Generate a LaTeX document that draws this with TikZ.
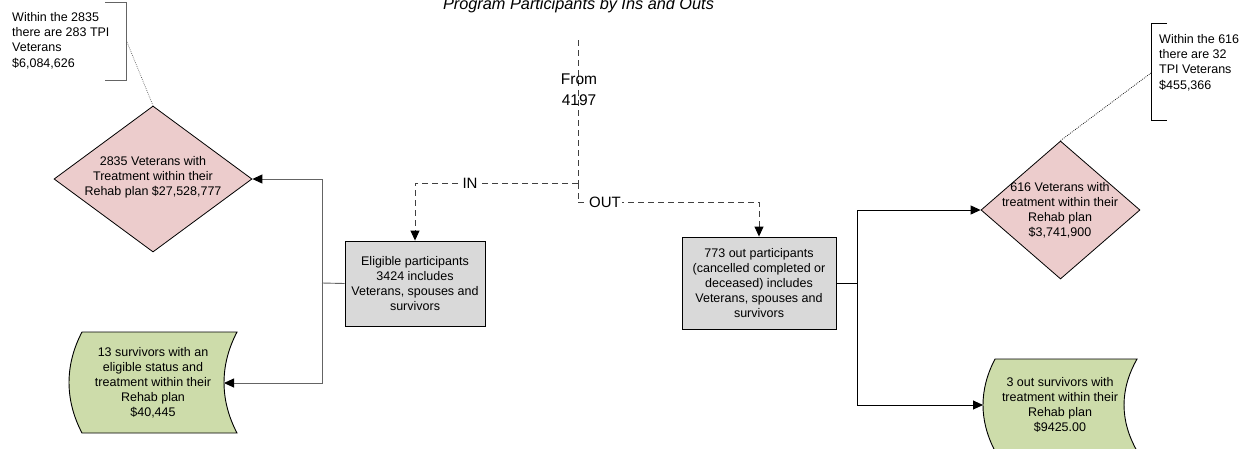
\documentclass[tikz,border=0pt]{standalone}
\usepackage{fontspec}
\setmainfont{Liberation Sans}
\usetikzlibrary{arrows.meta,shapes.geometric}
\definecolor{pinkfill}{RGB}{236,204,204}
\definecolor{greenfill}{RGB}{205,220,170}
\definecolor{boxfill}{RGB}{217,217,217}
\definecolor{lgray}{RGB}{100,100,100}
\tikzset{
  txt/.style={font=\fontsize{12.5}{15}\selectfont, align=center, inner sep=0pt},
  calltxt/.style={font=\fontsize{12.5}{15.3}\selectfont, align=left, inner sep=0pt, anchor=west},
  procbox/.style={draw, fill=boxfill, line width=0.9pt, txt},
  diam/.style={diamond, draw, fill=pinkfill, inner sep=0pt, line width=0.8pt},
  tape/.style={draw, fill=greenfill, line width=0.9pt},
  tip/.style={-{Triangle[length=10pt,width=9pt,color=black]}},
  conn/.style={line width=0.9pt, tip},
  dconn/.style={dash pattern=on 6pt off 4pt, line width=0.9pt, color=black!75},
  lbl/.style={font=\fontsize{15}{18}\selectfont, fill=white, inner sep=1.5pt},
  callbr/.style={line width=1pt},
  calldot/.style={dash pattern=on 0.8pt off 1.2pt, line width=0.7pt}
}
\begin{document}
\begin{tikzpicture}[x=1pt,y=-1pt]
\useasboundingbox[fill=white] (0,0) rectangle (1250,448);

% title
\node[font=\fontsize{16.3}{18}\selectfont\itshape, anchor=base, inner sep=0pt] (title) at (578.5,9.5) {Program Participants by Ins and Outs};

% diamonds
\node[diam, minimum width=198pt, minimum height=146pt] (ldiam) at (153,179) {};
\node[txt] (ldiamt) at (153,177) {2835 Veterans with\\Treatment within their\\Rehab plan \$27,528,777};
\node[diam, minimum width=159pt, minimum height=138pt] (rdiam) at (1060.5,210) {};
\node[txt] (rdiamt) at (1060,210) {616 Veterans with\\treatment within their\\Rehab plan\\\$3,741,900};

% process boxes
\node[procbox, minimum width=140pt, minimum height=85pt] (elig) at (415,283.5)
  {Eligible participants\\3424 includes\\Veterans, spouses and\\survivors};
\node[procbox, minimum width=154pt, minimum height=92pt] (out) at (759,283)
  {773 out participants\\(cancelled completed or\\deceased) includes\\Veterans, spouses and\\survivors};

% stored-data shapes
\path[tape] (82,332) -- (237,332) .. controls (219.7,365) and (219.7,400) .. (237,433)
  -- (82,433) .. controls (64.7,400) and (64.7,365) .. (82,332) -- cycle;
\node[txt] (lgreen) at (153,383) {13 survivors with an\\eligible status and\\treatment within their\\Rehab plan\\\$40,445};
\coordinate (lgreenE) at (224,383);
\path[tape] (995,359) -- (1137,359) .. controls (1119.7,389.7) and (1119.7,420.3) .. (1137,451)
  -- (995,451) .. controls (979,420.3) and (979,389.7) .. (995,359) -- cycle;
\node[txt] (rgreen) at (1060,405) {3 out survivors with\\treatment within their\\Rehab plan\\\$9425.00};
\coordinate (rgreenW) at (983,405);

% left connectors
\coordinate (lj) at (322,283);
\draw[lgray, line width=0.9pt] (elig.west) -- (lj);
\draw[conn, lgray] (lj) |- (ldiam.east);
\draw[conn, lgray] (lj) |- (lgreenE);

% right connectors
\coordinate (rj) at (857,283);
\draw[line width=0.9pt] (out.east) -- (rj);
\draw[conn] (rj) |- (rdiam.west);
\draw[conn] (rj) |- (rgreenW);

% dashed split
\coordinate (dtop) at (578,40);
\coordinate (dsplit) at (578,183);
\coordinate (dout) at (578,202);
\draw[dconn] (dtop) -- (dsplit);
\draw[dconn, tip] (dsplit) -| (elig.north);
\draw[dconn] (dsplit) -- (dout);
\draw[dconn, tip] (dout) -| (out.north);
\node[lbl] (inlbl) at (470,183) {IN};
\node[lbl] (outlbl) at (605,202) {OUT};
\node[font=\fontsize{15.5}{21}\selectfont, align=center, inner sep=0pt] (from) at (579,90) {From\\4197};

% callouts
\draw[callbr, lgray] (105,2) -- (126,2) -- (126,80) -- (105,80);
\node[calltxt] (lcall) at (12,40.5) {Within the 2835\\there are 283 TPI\\Veterans\\\$6,084,626};
\coordinate (lcallpt) at (127,42);
\draw[calldot, lgray] (lcallpt) -- (ldiam.north);

\draw[callbr] (1167,23) -- (1151,23) -- (1151,120) -- (1167,120);
\node[calltxt] (rcall) at (1159,62.5) {Within the 616\\there are 32\\TPI Veterans\\\$455,366};
\coordinate (rcallpt) at (1151,73);
\draw[calldot] (rcallpt) -- (rdiam.north);
\end{tikzpicture}
\end{document}
